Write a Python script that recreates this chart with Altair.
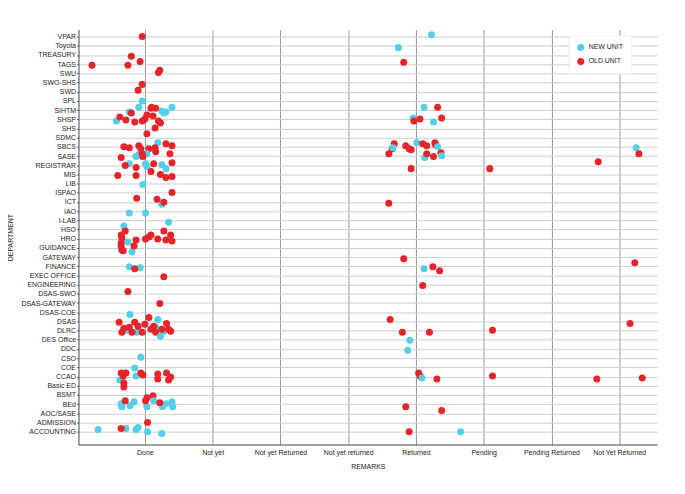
import altair as alt
import pandas as pd

remarks = ["Done", "Not yet", "Not yet Returned", "Not yet returned", "Returned",
           "Pending", "Pending Returned", "Not Yet Returned"]
depts = ["VPAR", "Toyota", "TREASURY", "TAGS", "SWU", "SWO-SHS", "SWD", "SPL", "SIHTM", "SHSP",
         "SHS", "SDMC", "SBCS", "SASE", "REGISTRAR", "MIS", "LIB", "ISPAO", "ICT", "IAO", "I-LAB",
         "HSO", "HRO", "GUIDANCE", "GATEWAY", "FINANCE", "EXEC OFFICE", "ENGINEERING", "DSAS-SWO",
         "DSAS-GATEWAY", "DSAS-COE", "DSAS", "DLRC", "DES Office", "DDC", "CSO", "COE", "CCAO",
         "Basic ED", "BSMT", "BEd", "AOC/SASE", "ADMISSION", "ACCOUNTING"]
units = {"N": "NEW UNIT", "O": "OLD UNIT"}

# (department, unit, x-jitter, y-jitter) per remark column
done_pts = [
    ("VPAR","O",-0.04,0), ("TREASURY","O",-0.2,-0.15),
    ("TAGS","O",-0.78,-0.13), ("TAGS","O",-0.25,-0.13), ("TAGS","O",-0.07,0.3),
    ("SWU","O",0.2,0.1), ("SWU","O",0.22,0.33), ("SWO-SHS","O",-0.04,-0.2), ("SWD","O",-0.1,0.17),
    ("SPL","N",-0.04,0),
    ("SIHTM","N",-0.09,0.32), ("SIHTM","N",0.4,0.32), ("SIHTM","N",-0.23,-0.2), ("SIHTM","N",0.25,-0.1),
    ("SIHTM","N",0.31,-0.2), ("SIHTM","N",0.28,-0.32),
    ("SIHTM","O",0.1,0.32), ("SIHTM","O",0.16,0.2), ("SIHTM","O",0.09,0.2), ("SIHTM","O",-0.2,-0.32),
    ("SHSP","N",-0.42,-0.18),
    ("SHSP","O",-0.37,0.25), ("SHSP","O",-0.28,-0.08), ("SHSP","O",-0.15,-0.3), ("SHSP","O",-0.04,-0.18),
    ("SHSP","O",0.03,0.46), ("SHSP","O",0.12,0.36), ("SHSP","O",0.2,-0.18), ("SHSP","O",0.23,-0.4),
    ("SHSP","O",0,0.03),
    ("SHS","O",0.15,0.06), ("SDMC","O",0.03,0.42),
    ("SBCS","N",0.19,0.44),
    ("SBCS","O",-0.23,-0.1), ("SBCS","O",-0.09,0.12), ("SBCS","O",-0.06,-0.2), ("SBCS","O",0.06,-0.2),
    ("SBCS","O",0.15,-0.1), ("SBCS","O",0.31,0.33), ("SBCS","O",0.4,0.12), ("SBCS","O",-0.31,0),
    ("SASE","N",-0.13,-0.06), ("SASE","N",-0.09,0.15), ("SASE","N",0.03,0.26),
    ("SASE","O",-0.35,-0.17), ("SASE","O",-0.04,0.26), ("SASE","O",-0.03,-0.06), ("SASE","O",0.16,0.48),
    ("SASE","O",0.37,0.26),
    ("REGISTRAR","N",-0.23,0.17), ("REGISTRAR","N",0.01,0.17), ("REGISTRAR","N",0.03,-0.15),
    ("REGISTRAR","N",0.25,0.06), ("REGISTRAR","N",0.31,-0.37),
    ("REGISTRAR","O",-0.29,-0.04), ("REGISTRAR","O",-0.13,-0.26), ("REGISTRAR","O",0.13,0.17),
    ("REGISTRAR","O",0.4,0.28),
    ("MIS","O",-0.4,-0.12), ("MIS","O",-0.13,-0.12), ("MIS","O",0.09,0.31), ("MIS","O",0.23,0),
    ("MIS","O",0.31,-0.33), ("MIS","O",0.4,-0.23),
    ("LIB","N",-0.03,-0.1), ("ISPAO","O",0.4,0.04),
    ("ICT","N",0.25,-0.25), ("ICT","O",-0.12,0.4), ("ICT","O",0.18,0.29), ("ICT","O",0.28,-0.03),
    ("IAO","N",-0.23,-0.2), ("IAO","N",0.01,-0.2), ("I-LAB","N",0.35,-0.2),
    ("HSO","N",-0.31,0.38), ("HSO","O",-0.29,-0.16), ("HSO","O",0.28,-0.16),
    ("HRO","N",-0.25,-0.35),
    ("HRO","O",-0.35,0.4), ("HRO","O",-0.34,0.08), ("HRO","O",-0.13,-0.14), ("HRO","O",0.01,-0.03),
    ("HRO","O",0.06,0.18), ("HRO","O",0.09,0.4), ("HRO","O",0.19,-0.03), ("HRO","O",0.31,-0.14),
    ("HRO","O",0.38,0.4), ("HRO","O",0.4,-0.25), ("HRO","O",-0.35,-0.46),
    ("GUIDANCE","N",-0.19,-0.43),
    ("GUIDANCE","O",-0.35,0.22), ("GUIDANCE","O",-0.34,-0.22), ("GUIDANCE","O",-0.16,0.22),
    ("GUIDANCE","O",-0.32,-0.32),
    ("FINANCE","N",-0.23,-0.05), ("FINANCE","N",-0.07,-0.16), ("FINANCE","O",-0.15,-0.27),
    ("EXEC OFFICE","O",0.28,-0.13), ("DSAS-SWO","O",-0.25,0.25), ("DSAS-GATEWAY","O",0.22,-0.05),
    ("DSAS-COE","N",-0.22,-0.24),
    ("DSAS","N",0.19,0.22),
    ("DSAS","O",-0.38,-0.1), ("DSAS","O",-0.15,-0.1), ("DSAS","O",0.06,0.43), ("DSAS","O",0,-0.32),
    ("DSAS","O",0.32,-0.22),
    ("DLRC","N",-0.12,-0.18), ("DLRC","N",0.16,0.36), ("DLRC","N",0.28,-0.08), ("DLRC","N",-0.26,0.03),
    ("DLRC","O",-0.31,0.25), ("DLRC","O",-0.34,-0.18), ("DLRC","O",-0.23,0.36), ("DLRC","O",-0.19,-0.18),
    ("DLRC","O",-0.1,0.46), ("DLRC","O",-0.04,-0.18), ("DLRC","O",0.09,0.14), ("DLRC","O",0.13,0.46),
    ("DLRC","O",0.16,-0.18), ("DLRC","O",0.25,0.14), ("DLRC","O",0.35,0.14), ("DLRC","O",0.38,-0.08),
    ("DES Office","N",0.23,0.39), ("CSO","N",-0.06,0.1), ("COE","N",-0.15,-0.08),
    ("CCAO","N",-0.37,-0.37), ("CCAO","N",-0.13,0.06),
    ("CCAO","O",-0.35,0.39), ("CCAO","O",-0.32,0.06), ("CCAO","O",-0.28,0.39), ("CCAO","O",-0.06,0.39),
    ("CCAO","O",-0.03,0.17), ("CCAO","O",0.19,0.28), ("CCAO","O",0.32,0.39), ("CCAO","O",0.38,-0.04),
    ("CCAO","O",0.19,-0.26), ("CCAO","O",0.35,-0.37),
    ("Basic ED","O",-0.31,0.3), ("Basic ED","O",-0.31,-0.13), ("BSMT","O",0.12,-0.1),
    ("BEd","N",-0.35,0.04), ("BEd","N",-0.34,-0.28), ("BEd","N",-0.16,0.26), ("BEd","N",-0.22,-0.17),
    ("BEd","N",0.03,-0.28), ("BEd","N",0.13,0.37), ("BEd","N",0.26,-0.28), ("BEd","N",0.31,0.04),
    ("BEd","N",0.4,0.26), ("BEd","N",0.41,-0.28),
    ("BEd","O",-0.29,0.37), ("BEd","O",0.01,0.37), ("BEd","O",0.03,0.69), ("BEd","O",0.22,0.15),
    ("ADMISSION","O",0.04,0),
    ("ACCOUNTING","N",-0.69,0.24), ("ACCOUNTING","N",-0.28,0.35), ("ACCOUNTING","N",-0.13,0.24),
    ("ACCOUNTING","N",-0.1,0.45), ("ACCOUNTING","N",0.04,0), ("ACCOUNTING","N",0.25,-0.2),
    ("ACCOUNTING","O",-0.35,0.35),
]
returned_pts = [
    ("VPAR","N",0.23,0.2), ("Toyota","N",-0.26,-0.2), ("TAGS","O",-0.18,0.2),
    ("SIHTM","N",0.12,0.32), ("SIHTM","O",0.32,0.32),
    ("SHSP","N",-0.04,0.14), ("SHSP","O",-0.03,-0.18), ("SHSP","O",0.06,0.03), ("SHSP","O",0.38,0.14),
    ("SHSP","N",0.26,-0.3),
    ("SBCS","O",-0.32,0.33), ("SBCS","O",-0.35,-0.2), ("SBCS","N",-0.34,-0.1), ("SBCS","O",-0.15,0.12),
    ("SBCS","O",-0.1,-0.2), ("SBCS","O",-0.07,-0.31), ("SBCS","N",0.01,0.44), ("SBCS","O",0.1,0.33),
    ("SBCS","O",0.16,0.12), ("SBCS","O",0.28,0.44), ("SBCS","O",0.29,0.23), ("SBCS","N",0.32,0),
    ("SASE","O",-0.4,0.26), ("SASE","O",0.37,0.37), ("SASE","N",0.13,-0.17), ("SASE","O",0.16,0.26),
    ("SASE","O",0.26,-0.06), ("SASE","N",0.38,0.04),
    ("REGISTRAR","O",-0.07,-0.37), ("ICT","O",-0.4,-0.14), ("GATEWAY","O",-0.18,-0.19),
    ("FINANCE","N",0.12,-0.27), ("FINANCE","O",0.25,-0.05), ("FINANCE","O",0.35,-0.49),
    ("ENGINEERING","O",0.1,-0.1), ("DSAS","O",-0.38,0.22),
    ("DLRC","O",-0.2,-0.18), ("DLRC","O",0.2,-0.18),
    ("DES Office","N",-0.09,-0.04), ("DDC","N",-0.12,-0.13),
    ("CCAO","O",0.04,0.39), ("CCAO","O",0.06,0.06), ("CCAO","N",0.09,-0.15), ("CCAO","O",0.31,-0.26),
    ("BEd","O",-0.15,-0.28), ("AOC/SASE","O",0.38,0.29), ("ACCOUNTING","O",-0.1,0),
]
pending_pts = [
    ("REGISTRAR","O",0.09,-0.37), ("DLRC","O",0.13,0.03), ("CCAO","O",0.13,0.06),
    ("ACCOUNTING","N",-0.34,0),
]
pending_returned_pts = [
    ("REGISTRAR","O",0.69,0.39), ("CCAO","O",0.67,-0.26),
]
not_yet_returned_pts = [
    ("SBCS","N",0.25,-0.1), ("SASE","O",0.29,0.26), ("FINANCE","O",0.23,0.38),
    ("DSAS","O",0.16,-0.22), ("CCAO","O",0.34,-0.15),
]

columns = {"Done": done_pts, "Returned": returned_pts, "Pending": pending_pts,
           "Pending Returned": pending_returned_pts, "Not Yet Returned": not_yet_returned_pts}

rows = []
n = len(depts)
for remark, pts in columns.items():
    for d, u, jx, jy in pts:
        rows.append({
            "DEPARTMENT": d, "REMARKS": remark, "UNIT": units[u],
            "x": remarks.index(remark) + jx,
            "y": (n - 1 - depts.index(d)) + jy,
        })
df = pd.DataFrame(rows)

font = "Liberation Sans, Arial, sans-serif"
remark_arr = "[" + ",".join("'" + r + "'" for r in remarks) + "]"
dept_arr = "[" + ",".join("'" + d + "'" for d in reversed(depts)) + "]"

chart = alt.Chart(df).mark_circle(size=50, opacity=1).encode(
    x=alt.X("x:Q",
            scale=alt.Scale(domain=[-0.98, 7.56], nice=False, zero=False),
            axis=alt.Axis(values=list(range(len(remarks))), labelExpr=remark_arr + "[round(datum.value)]",
                          title="REMARKS", grid=True, gridColor="#8e9a9a", gridWidth=1,
                          domainColor="#444444", ticks=False, labelPadding=4,
                          labelFontSize=7, titleFontSize=7, titleFontWeight="normal",
                          titlePadding=7, labelColor="#222222", titleColor="#222222",
                          labelFont=font, titleFont=font)),
    y=alt.Y("y:Q",
            scale=alt.Scale(domain=[-1.4, n - 1 + 0.76], nice=False, zero=False),
            axis=alt.Axis(values=list(range(n)), labelExpr=dept_arr + "[round(datum.value)]",
                          title="DEPARTMENT", grid=True, gridColor="#c9cfcf", gridWidth=1,
                          domainColor="#444444", tickSize=2, tickColor="#666666", labelPadding=1,
                          labelFontSize=7, titleFontSize=7, titleFontWeight="normal",
                          titlePadding=7, labelColor="#222222", titleColor="#222222",
                          labelFont=font, titleFont=font)),
    color=alt.Color("UNIT:N",
                    scale=alt.Scale(domain=["NEW UNIT", "OLD UNIT"], range=["#55cfe8", "#e8242b"]),
                    legend=alt.Legend(title=None, orient="none", legendX=494, legendY=6,
                                      symbolSize=50, symbolType="circle", symbolStrokeWidth=0,
                                      labelFontSize=7, labelFont=font, labelColor="#222222",
                                      padding=8, strokeColor="#eeeeee", fillColor="#ffffff",
                                      rowPadding=6)),
).properties(
    width=583, height=418,
    autosize=alt.AutoSizeParams(type="none"),
    padding={"left": 71, "top": 20, "right": 20, "bottom": 40},
    background="#ffffff",
).configure_view(stroke=None)

chart.save("out.html", embed_options={"renderer": "svg", "actions": False})
